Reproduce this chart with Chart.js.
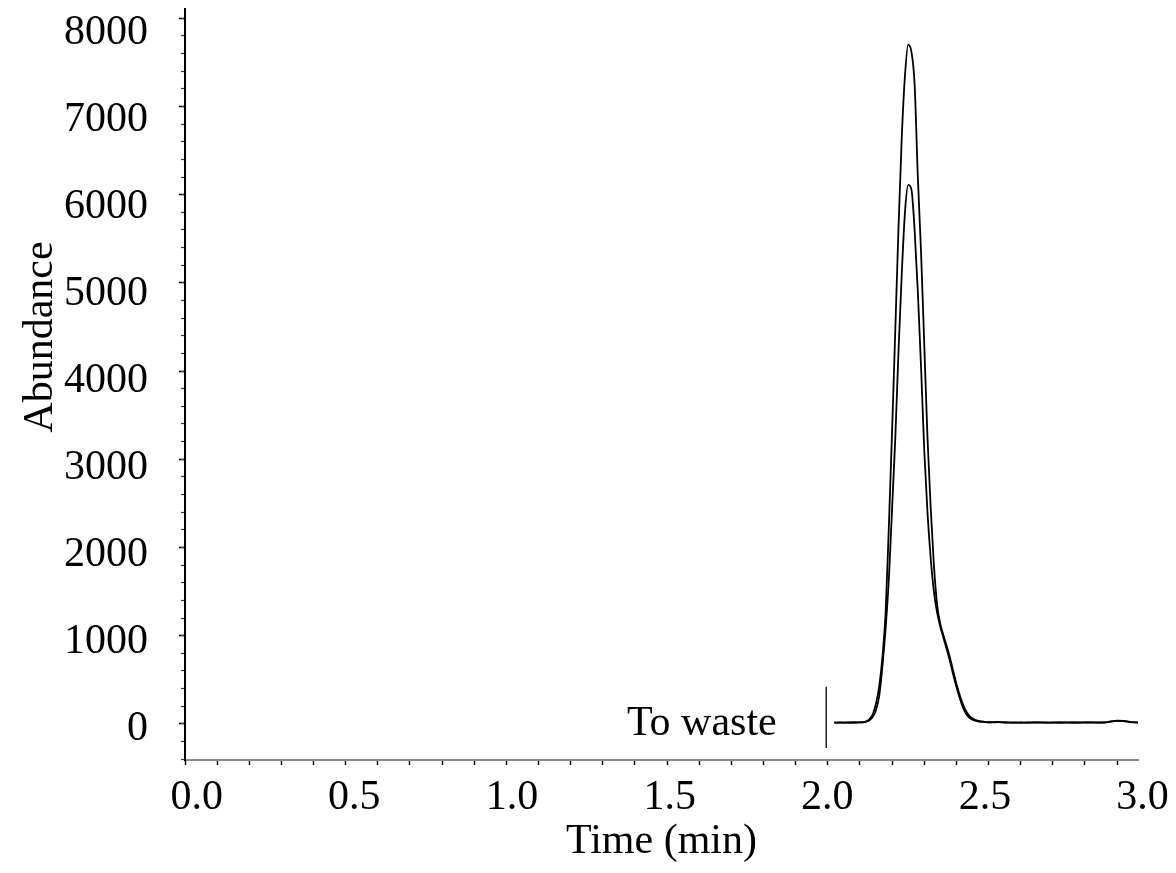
<!DOCTYPE html>
<html>
<head>
<meta charset="utf-8">
<script src="https://cdn.jsdelivr.net/npm/chart.js@4.4.1/dist/chart.umd.min.js"></script>
<style>
  html, body { margin: 0; padding: 0; background: #fff; }
  canvas { display: block; }
</style>
</head>
<body>
<canvas id="chart" width="1176" height="873"></canvas>
<script>
// Retention times (min) shared by both traces
const timesMin = [
  2.02, 2.04, 2.06, 2.08, 2.10,
  2.11, 2.12, 2.13, 2.14, 2.15, 2.16, 2.17, 2.18, 2.19, 2.20,
  2.21, 2.22, 2.23, 2.24, 2.25, 2.26, 2.27, 2.28, 2.29, 2.30,
  2.31, 2.32, 2.33, 2.34, 2.35, 2.36, 2.37, 2.38, 2.39, 2.40,
  2.41, 2.42, 2.43, 2.44, 2.45, 2.46, 2.47, 2.48, 2.49, 2.50,
  2.52, 2.54, 2.56, 2.58, 2.60, 2.62, 2.64, 2.66, 2.68, 2.70, 2.72,
  2.74, 2.76, 2.78, 2.80, 2.82, 2.84, 2.86, 2.88, 2.90, 2.92, 2.94, 2.965
];

// Taller trace
const abundanceHigh = [
  14, 15, 14, 15, 17,
  20, 30, 55, 110, 230, 430, 760, 1280, 2250, 3330,
  4480, 5640, 6650, 7350, 7700, 7620, 7250, 6200, 5350, 4300,
  3250, 2450, 1800, 1350, 1130, 1000, 880, 750, 600, 455,
  330, 225, 145, 90, 60, 42, 33, 27, 22, 18,
  22, 16, 14, 15, 14, 15, 16, 15, 14, 15, 15,
  14, 15, 15, 16, 15, 14, 16, 28, 36, 32, 20, 14
];

// Lower trace
const abundanceLow = [
  15, 14, 15, 15, 16,
  18, 24, 42, 80, 160, 320, 660, 1090, 1650, 2450,
  3250, 4240, 5100, 5800, 6110, 6060, 5600, 4900, 4050, 3100,
  2400, 1880, 1500, 1260, 1100, 970, 845, 710, 560, 420,
  295, 190, 115, 72, 46, 33, 26, 22, 20, 18,
  17, 20, 16, 14, 15, 14, 15, 16, 15, 14, 15,
  16, 15, 14, 15, 16, 15, 15, 24, 34, 34, 22, 15
];

const xTickLabels = ['0.0', '0.5', '1.0', '1.5', '2.0', '2.5', '3.0'];
const yTickLabels = ['0', '1000', '2000', '3000', '4000', '5000', '6000', '7000', '8000'];

// valve switch marker
const wasteTime = [1.995, 1.995];
const wasteRange = [420, -273];
const wasteText = 'To waste';

const xTitle = 'Time (min)';
const yTitle = 'Abundance';

const FONT = "'Liberation Serif', 'Times New Roman', serif";

function toPoints(values) {
  return timesMin.map((t, i) => ({ x: t, y: values[i] }));
}

function noPadding(scale) {
  scale.paddingTop = 0;
  scale.paddingBottom = 0;
  scale.paddingLeft = 0;
  scale.paddingRight = 0;
}

// text that is not part of an axis
const annotations = {
  id: 'annotations',
  afterDatasetsDraw(chart) {
    const { ctx, scales } = chart;
    ctx.save();
    ctx.fillStyle = '#000';
    ctx.font = '42px ' + FONT;
    ctx.textAlign = 'right';
    ctx.textBaseline = 'alphabetic';
    ctx.fillText(wasteText, scales.x.getPixelForValue(1.841), scales.y.getPixelForValue(-126));

    ctx.translate(52, 337);
    ctx.rotate(-Math.PI / 2);
    ctx.textAlign = 'center';
    ctx.fillText(yTitle, 0, 0);
    ctx.restore();
  }
};

const ctx = document.getElementById('chart').getContext('2d');

new Chart(ctx, {
  type: 'line',
  data: {
    datasets: [
      {
        label: 'high',
        data: toPoints(abundanceHigh),
        borderColor: '#000',
        borderWidth: 1.8,
        pointRadius: 0,
        cubicInterpolationMode: 'monotone',
        fill: false
      },
      {
        label: 'low',
        data: toPoints(abundanceLow),
        borderColor: '#000',
        borderWidth: 1.8,
        pointRadius: 0,
        cubicInterpolationMode: 'monotone',
        fill: false
      },
      {
        label: 'waste',
        data: wasteTime.map((t, i) => ({ x: t, y: wasteRange[i] })),
        borderColor: '#222',
        borderWidth: 1.5,
        pointRadius: 0,
        fill: false
      }
    ]
  },
  options: {
    responsive: false,
    animation: false,
    devicePixelRatio: 1,
    layout: { padding: { top: 9, right: 38, left: 0, bottom: 0 } },
    plugins: {
      legend: { display: false },
      tooltip: { enabled: false }
    },
    scales: {
      x: {
        type: 'linear',
        position: 'bottom',
        weight: 0,
        min: 0,
        max: 2.965,
        afterBuildTicks: s => {
          s.ticks = Array.from({ length: 30 }, (_, i) => ({ value: i / 10 }));
        },
        afterFit: s => { s.height = 6; noPadding(s); },
        ticks: { display: false, autoSkip: false },
        grid: { drawOnChartArea: false, tickLength: 5, tickColor: '#000', tickWidth: 1.5 },
        border: { color: '#8c8c8c', width: 2 }
      },
      xLabels: {
        type: 'linear',
        axis: 'x',
        position: 'bottom',
        weight: 1,
        min: -0.0371,
        max: 2.9854,
        afterBuildTicks: s => {
          s.ticks = xTickLabels.map((_, i) => ({ value: i * 0.5 }));
        },
        afterFit: s => { s.height = 107; noPadding(s); },
        grid: { display: false, drawTicks: false },
        border: { display: false },
        ticks: {
          autoSkip: false,
          maxRotation: 0,
          padding: 7,
          color: '#000',
          font: { family: FONT, size: 42 },
          callback: (v, i) => xTickLabels[i]
        },
        title: {
          display: true,
          text: xTitle,
          color: '#000',
          font: { family: FONT, size: 42 },
          padding: { top: 0, bottom: 6 }
        }
      },
      y: {
        type: 'linear',
        position: 'left',
        weight: 0,
        min: -410,
        max: 8105,
        afterBuildTicks: s => {
          s.ticks = yTickLabels.map((_, i) => ({ value: i * 1000 }));
        },
        afterFit: s => { s.width = 37; noPadding(s); },
        ticks: { display: false, autoSkip: false },
        grid: { drawOnChartArea: false, tickLength: 6, tickColor: '#000', tickWidth: 1.5 },
        border: { color: '#000', width: 2 }
      },
      yMinor: {
        type: 'linear',
        axis: 'y',
        position: { x: 0 },
        min: -410,
        max: 8105,
        afterBuildTicks: s => {
          s.ticks = Array.from({ length: 43 }, (_, i) => ({ value: -400 + i * 200 }));
        },
        afterFit: s => noPadding(s),
        ticks: { display: false, autoSkip: false },
        grid: { drawOnChartArea: false, tickLength: 4, tickColor: '#333', tickWidth: 1.2 },
        border: { display: false }
      },
      yLabels: {
        type: 'linear',
        axis: 'y',
        position: 'left',
        weight: 1,
        min: -356,
        max: 8276,
        afterBuildTicks: s => {
          s.ticks = yTickLabels.map((_, i) => ({ value: i * 1000 }));
        },
        afterFit: s => { s.width = 148; noPadding(s); },
        grid: { display: false, drawTicks: false },
        border: { display: false },
        ticks: {
          autoSkip: false,
          padding: 0,
          color: '#000',
          font: { family: FONT, size: 42 },
          callback: (v, i) => yTickLabels[i]
        }
      }
    }
  },
  plugins: [annotations]
});
</script>
</body>
</html>
